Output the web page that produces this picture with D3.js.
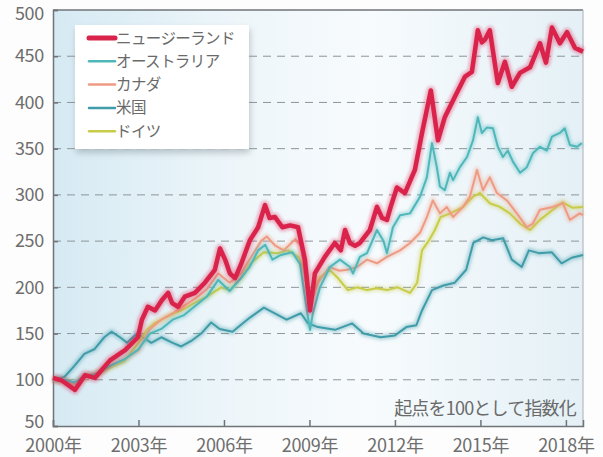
<!DOCTYPE html>
<html><head><meta charset="utf-8">
<script src="https://cdn.jsdelivr.net/npm/d3@7"></script>
<style>
html,body{margin:0;padding:0;background:#fdfdfd;}
svg{display:block;font-family:"Noto Sans CJK JP","Noto Sans",sans-serif;}
</style></head><body>
<svg id="c" width="603" height="457"></svg>
<script>
// ---- data (decimal year, index value) ----
const seriesNames = ["ニュージーランド","オーストラリア","カナダ","米国","ドイツ"];
const seriesColors = ["#d9234b","#4fb7ba","#ef9b84","#3f9ca8","#c8cc48"];
const xTicks = [2000,2003,2006,2009,2012,2015,2018];
const yTicks = [50,100,150,200,250,300,350,400,450,500];
const note = "起点を100として指数化";

const nz = [[2000.0,102],[2000.32,99],[2000.77,89],[2001.12,105],[2001.47,102],[2002.0,121],[2002.53,132],[2002.98,146],[2003.12,165],[2003.33,179],[2003.58,175],[2003.82,186],[2004.04,194],[2004.18,183],[2004.39,179],[2004.63,190],[2004.98,194],[2005.33,205],[2005.68,219],[2005.86,242],[2006.04,230],[2006.21,215],[2006.39,210],[2006.6,225],[2006.91,251],[2007.2,265],[2007.44,289],[2007.6,275],[2007.79,276],[2008.05,265],[2008.32,267],[2008.6,265],[2008.84,230],[2009.02,175],[2009.19,215],[2009.54,233],[2009.89,248],[2010.1,240],[2010.25,262],[2010.42,248],[2010.6,245],[2010.77,248],[2011.12,262],[2011.37,287],[2011.55,275],[2011.72,273],[2011.85,287],[2012.07,308],[2012.35,302],[2012.7,327],[2012.95,367],[2013.26,413],[2013.51,359],[2013.75,384],[2014.1,406],[2014.46,428],[2014.7,433],[2014.91,478],[2015.05,465],[2015.16,468],[2015.33,478],[2015.61,421],[2015.86,444],[2016.1,417],[2016.39,432],[2016.74,438],[2017.09,464],[2017.3,443],[2017.51,481],[2017.79,464],[2018.04,476],[2018.32,459],[2018.6,455]];

const au = [[2000.0,100],[2000.4,100],[2000.75,97],[2001.1,104],[2001.5,106],[2002.0,115],[2002.5,122],[2003.0,133],[2003.4,150],[2003.8,155],[2004.2,165],[2004.6,170],[2005.0,180],[2005.4,190],[2005.8,208],[2006.2,196],[2006.6,210],[2006.9,222],[2007.2,240],[2007.45,246],[2007.7,230],[2008.0,235],[2008.4,238],[2008.67,225],[2008.91,175],[2009.02,154],[2009.12,172],[2009.37,200],[2009.72,222],[2010.07,230],[2010.42,222],[2010.53,215],[2010.77,233],[2011.02,237],[2011.37,262],[2011.6,250],[2011.72,237],[2011.93,265],[2012.18,278],[2012.53,280],[2012.88,298],[2013.12,319],[2013.3,356],[2013.47,330],[2013.58,309],[2013.75,305],[2013.93,324],[2014.04,316],[2014.28,330],[2014.53,341],[2014.74,359],[2014.91,384],[2015.05,367],[2015.23,373],[2015.44,372],[2015.61,352],[2015.79,341],[2015.96,348],[2016.14,336],[2016.39,324],[2016.63,330],[2016.84,345],[2017.09,352],[2017.33,348],[2017.51,363],[2017.79,367],[2017.96,372],[2018.14,354],[2018.39,352],[2018.56,356]];

const ca = [[2000.0,100],[2000.5,97],[2000.8,95],[2001.2,105],[2001.6,108],[2002.0,115],[2002.5,122],[2003.0,132],[2003.4,155],[2003.8,165],[2004.2,172],[2004.6,180],[2005.0,188],[2005.4,198],[2005.8,215],[2006.2,205],[2006.6,215],[2006.9,230],[2007.3,250],[2007.5,255],[2007.8,245],[2008.1,240],[2008.5,252],[2008.7,245],[2008.9,200],[2009.05,182],[2009.3,205],[2009.7,222],[2010.05,218],[2010.32,219],[2010.67,222],[2011.02,230],[2011.37,226],[2011.72,233],[2012.18,240],[2012.53,248],[2012.88,259],[2013.12,276],[2013.33,294],[2013.58,280],[2013.82,287],[2014.04,276],[2014.39,287],[2014.63,298],[2014.88,327],[2015.09,305],[2015.33,319],[2015.58,302],[2015.93,294],[2016.28,280],[2016.63,265],[2016.84,269],[2017.09,284],[2017.54,287],[2017.89,291],[2018.14,273],[2018.49,280],[2018.6,278]];

const us = [[2000.0,100],[2000.4,103],[2000.75,115],[2001.1,128],[2001.45,133],[2001.8,146],[2002.05,152],[2002.35,146],[2002.6,140],[2002.95,150],[2003.2,145],[2003.45,140],[2003.8,146],[2004.2,140],[2004.5,136],[2004.85,142],[2005.2,150],[2005.55,162],[2005.85,155],[2006.3,152],[2006.9,167],[2007.4,178],[2007.9,170],[2008.2,165],[2008.7,172],[2008.95,161],[2009.3,157],[2009.9,154],[2010.5,161],[2010.9,150],[2011.5,146],[2012.0,148],[2012.4,157],[2012.75,159],[2012.95,175],[2013.3,197],[2013.7,202],[2014.1,205],[2014.5,219],[2014.75,248],[2015.1,254],[2015.4,251],[2015.8,253],[2016.1,230],[2016.45,222],[2016.7,240],[2017.05,237],[2017.5,238],[2017.85,226],[2018.2,232],[2018.6,235]];

const de = [[2000.0,100],[2000.5,98],[2000.8,96],[2001.2,104],[2001.6,107],[2002.0,113],[2002.5,120],[2003.0,140],[2003.3,154],[2003.55,161],[2004.0,168],[2004.5,175],[2004.95,183],[2005.4,190],[2005.9,200],[2006.2,197],[2006.6,210],[2006.9,225],[2007.4,238],[2007.9,237],[2008.25,240],[2008.6,233],[2008.8,219],[2009.0,185],[2009.2,200],[2009.37,211],[2009.7,219],[2010.0,210],[2010.35,197],[2010.67,200],[2011.02,197],[2011.37,199],[2011.72,197],[2012.1,200],[2012.53,194],[2012.78,205],[2012.95,240],[2013.2,251],[2013.4,262],[2013.6,276],[2013.95,280],[2014.39,287],[2014.74,298],[2014.98,302],[2015.33,291],[2015.68,287],[2016.03,280],[2016.39,269],[2016.74,262],[2017.09,273],[2017.54,284],[2017.89,292],[2018.24,286],[2018.6,287]];

const seriesData = [nz, au, ca, us, de];

// ---- layout ----
const svg = d3.select("#c");
const L = 53, T = 10, R = 583, B = 426;
const x = d3.scaleLinear().domain([2000, 2018.6]).range([L, R]);
const y = d3.scaleLinear().domain([50, 500]).range([B, T]);

const defs = svg.append("defs");
const g1 = defs.append("linearGradient").attr("id","bg").attr("x1","0").attr("x2","1").attr("y1","0").attr("y2","0");
g1.append("stop").attr("offset","0").attr("stop-color","#d6eaf3");
g1.append("stop").attr("offset","0.35").attr("stop-color","#eef6fa");
g1.append("stop").attr("offset","0.6").attr("stop-color","#f7fbfd");
g1.append("stop").attr("offset","1").attr("stop-color","#e4f0f6");
const sh = defs.append("filter").attr("id","sh").attr("x","-10%").attr("y","-10%").attr("width","130%").attr("height","140%");
sh.append("feDropShadow").attr("dx",1).attr("dy",4).attr("stdDeviation",3).attr("flood-color","#7a8a90").attr("flood-opacity",0.45);
const blur = defs.append("filter").attr("id","bl");
blur.append("feGaussianBlur").attr("stdDeviation",1.6);

svg.append("rect").attr("x",L).attr("y",T).attr("width",R-L).attr("height",B-T).attr("fill","url(#bg)");

// grid
svg.append("g").selectAll("line").data(yTicks.filter(v=>v>50 && v<500)).join("line")
  .attr("x1",L).attr("x2",R).attr("y1",d=>y(d)).attr("y2",d=>y(d))
  .attr("stroke","#8d9599").attr("stroke-width",1).attr("stroke-dasharray","8,6");

// border
svg.append("line").attr("x1",L).attr("x2",R).attr("y1",T).attr("y2",T).attr("stroke","#6f7478").attr("stroke-width",1.5);
svg.append("line").attr("x1",R).attr("x2",R).attr("y1",T).attr("y2",B).attr("stroke","#a9b0b4").attr("stroke-width",1);

// axes
const yAxis = d3.axisLeft(y).tickValues(yTicks).tickSize(-5).tickPadding(9).tickFormat(d3.format("d"));
const ya = svg.append("g").attr("transform",`translate(${L},0)`).call(yAxis);
const xAxis = d3.axisBottom(x).tickValues(xTicks).tickSize(-6).tickPadding(13).tickFormat(d=>d+"年");
const xa = svg.append("g").attr("transform",`translate(0,${B})`).call(xAxis);
[ya, xa].forEach(a=>{
  a.select(".domain").attr("stroke","#6f7478").attr("stroke-width",1.5);
  a.selectAll(".tick line").attr("stroke","#6f7478").attr("stroke-width",1.5);
  a.selectAll("text").attr("fill","#6e6e6e").attr("font-size",18).attr("font-family","\"Noto Sans CJK JP\",sans-serif").attr("letter-spacing","-0.3px");
});
ya.selectAll(".tick").filter(d=>d===500).select("text").attr("dy","0.55em");
ya.selectAll(".tick").filter(d=>d===50).select("text").attr("dy","0.1em");

// lines
const line = d3.line().x(d=>x(d[0])).y(d=>y(d[1])).curve(d3.curveLinear);
const order = [3,4,2,1,0];
const lg = svg.append("g");
order.forEach(i=>{
  const w = i===0 ? 4.5 : 2;
  lg.append("path").datum(seriesData[i]).attr("d",line).attr("fill","none")
    .attr("stroke",seriesColors[i]).attr("stroke-opacity",0.35).attr("stroke-width",w+4)
    .attr("stroke-linejoin","round").attr("filter","url(#bl)");
  lg.append("path").datum(seriesData[i]).attr("d",line).attr("fill","none")
    .attr("stroke",seriesColors[i]).attr("stroke-width",w).attr("stroke-linejoin","round");
});

// legend
const leg = svg.append("g");
leg.append("rect").attr("x",75).attr("y",25).attr("width",174).attr("height",124).attr("fill","#ffffff").attr("filter","url(#sh)");
seriesNames.forEach((n,i)=>{
  const yy = 38 + i*23.3;
  leg.append("line").attr("x1",89).attr("x2",115).attr("y1",yy).attr("y2",yy)
    .attr("stroke",seriesColors[i]).attr("stroke-width", i===0?5:2.5).attr("stroke-linecap","round");
  leg.append("text").attr("x",116).attr("y",yy).attr("dy","0.36em").text(n)
    .attr("fill","#6a6a6a").attr("font-size",15.5).attr("letter-spacing","-0.6px");
});

// note
svg.append("text").attr("x",576).attr("y",409).attr("dy","0.36em").attr("text-anchor","end")
  .text(note).attr("fill","#6a6a6a").attr("font-size",18).attr("letter-spacing","-0.8px");
</script></body></html>
